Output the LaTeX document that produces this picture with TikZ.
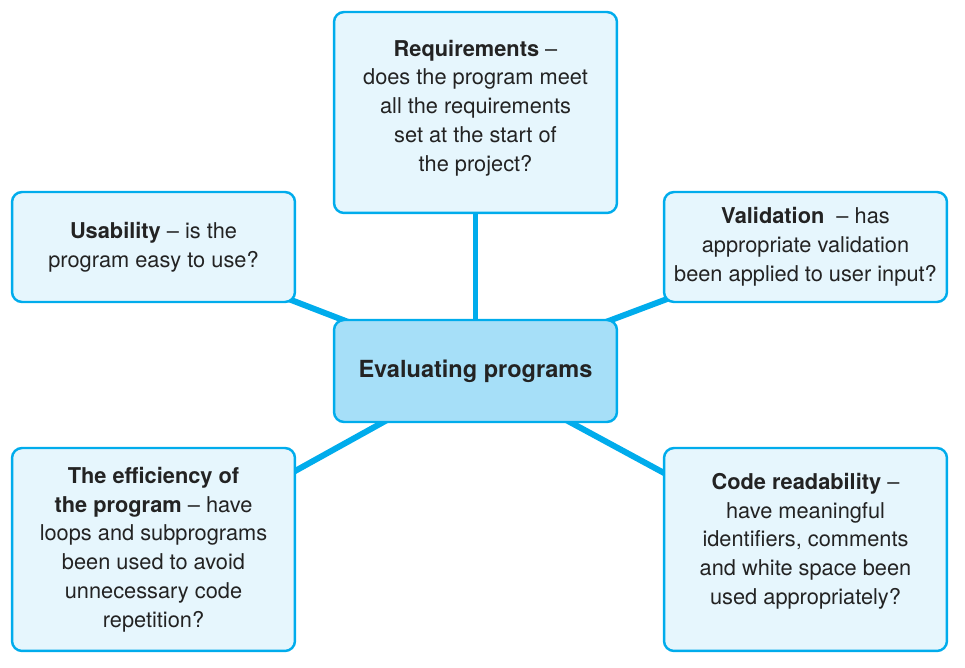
\documentclass[tikz,border=0pt]{standalone}
\usepackage{fontspec}
\setmainfont{TeX Gyre Heros}
\usepackage{tikz}
\usetikzlibrary{backgrounds}
\usepackage{xcolor}
\definecolor{edge}{RGB}{0,172,236}
\definecolor{boxfill}{RGB}{230,246,253}
\definecolor{hubfill}{RGB}{166,223,248}
\definecolor{ink}{RGB}{35,35,35}

\begin{document}
\begin{tikzpicture}[x=0.02cm,y=-0.02cm,
  topic/.style={draw=edge,line width=1.4pt,rounded corners=0.2cm,fill=boxfill,
    minimum width=5.66cm,align=center,text=ink,
    font=\fontsize{12.4}{16.4}\selectfont},
  hub/.style={topic,fill=hubfill,font=\fontsize{13.4}{16.4}\selectfont},
  link/.style={edge,line width=3.4pt}]
\useasboundingbox (0,0) rectangle (965,668);
\node[hub,minimum height=2.04cm] (eval) at (475.5,371) {\textbf{Evaluating programs}};
\node[topic,minimum height=4.02cm] (req) at (475.5,112.5) {\textbf{Requirements} --\\does the program meet\\all the requirements\\set at the start of\\the project?\\[-0.3cm]};
\node[topic,minimum height=2.2cm] (usab) at (153.5,247) {\textbf{Usability} -- is the\\program easy to use?};
\node[topic,minimum height=2.2cm] (valid) at (805.5,247) {\textbf{Validation}\ \ -- has\\appropriate validation\\been applied to user input?};
\node[topic,minimum height=4.06cm] (eff) at (153.5,549.5) {\textbf{The efficiency of}\\\textbf{the program} -- have\\loops and subprograms\\been used to avoid\\unnecessary code\\repetition?};
\node[topic,minimum height=4.06cm] (code) at (805.5,549.5) {\textbf{Code readability} --\\have meaningful\\identifiers, comments\\and white space been\\used appropriately?\\[-0.15cm]};
% spokes sit behind the boxes
\begin{scope}[on background layer]
\draw[link] (req.center) -- (eval.center);
\draw[link] (usab.center) -- (eval.center);
\draw[link] (valid.center) -- (eval.center);
\draw[link] (eff.center) -- (eval.center);
\draw[link] (code.center) -- (eval.center);
\end{scope}
\end{tikzpicture}
\end{document}
